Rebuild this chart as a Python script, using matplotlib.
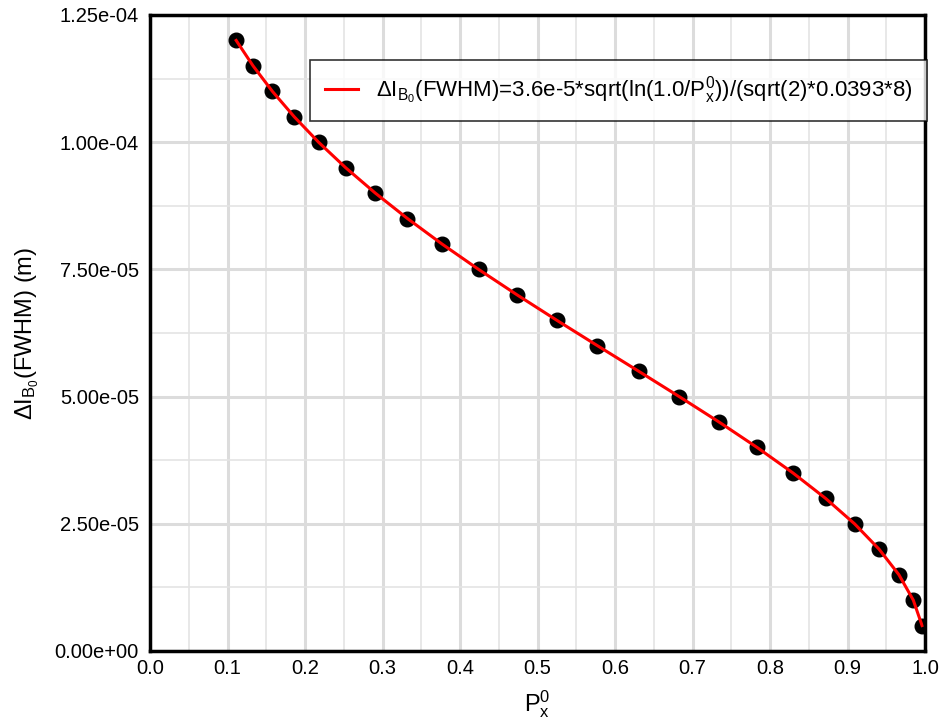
import matplotlib
matplotlib.use("Agg")
from matplotlib import pyplot as plt
from matplotlib.ticker import MultipleLocator, FormatStrFormatter

plt.rcParams["font.family"] = ["Liberation Sans", "DejaVu Sans"]
plt.rcParams["mathtext.fontset"] = "custom"
plt.rcParams["mathtext.rm"] = "Liberation Sans"
plt.rcParams["mathtext.it"] = "Liberation Sans"
plt.rcParams["mathtext.default"] = "regular"

# values
px0 = [0.1112, 0.1330, 0.1579, 0.1861, 0.2175, 0.2524, 0.2907, 0.3322,
       0.3767, 0.4240, 0.4736, 0.5249, 0.5774, 0.6304, 0.6829, 0.7343,
       0.7834, 0.8296, 0.8717, 0.9091, 0.9408, 0.9663, 0.9849, 0.9962]
fwhm = [1.20e-4, 1.15e-4, 1.10e-4, 1.05e-4, 1.00e-4, 0.95e-4, 0.90e-4, 0.85e-4,
        0.80e-4, 0.75e-4, 0.70e-4, 0.65e-4, 0.60e-4, 0.55e-4, 0.50e-4, 0.45e-4,
        0.40e-4, 0.35e-4, 0.30e-4, 0.25e-4, 0.20e-4, 0.15e-4, 0.10e-4, 0.05e-4]

legend_label = r"ΔI$_{B_0}$(FWHM)=3.6e-5*sqrt(ln(1.0/P$_x^0$))/(sqrt(2)*0.0393*8)"

fig = plt.figure(figsize=(9.41, 7.28), dpi=100)
ax = fig.add_axes([150 / 941, 1 - 651 / 728, 775 / 941, 636 / 728])

ax.plot(px0, fwhm, "o", color="black", markersize=10.5, zorder=3)
ax.plot(px0, fwhm, "-", color="red", linewidth=2.2, label=legend_label, zorder=4)

ax.set_xlim(0.0, 1.0)
ax.set_ylim(0.0, 1.25e-4)
ax.xaxis.set_major_locator(MultipleLocator(0.1))
ax.xaxis.set_minor_locator(MultipleLocator(0.05))
ax.yaxis.set_major_locator(MultipleLocator(2.5e-5))
ax.yaxis.set_minor_locator(MultipleLocator(1.25e-5))
ax.xaxis.set_major_formatter(FormatStrFormatter("%.1f"))
ax.yaxis.set_major_formatter(FormatStrFormatter("%.2e"))

ax.grid(which="major", color="#dcdcdc", linewidth=2.2)
ax.grid(which="minor", color="#e4e4e4", linewidth=1.2)
ax.set_axisbelow(True)
ax.tick_params(which="both", length=0, labelsize=14.5)
ax.tick_params(axis="x", pad=6)
ax.tick_params(axis="y", pad=8)
for spine in ax.spines.values():
    spine.set_linewidth(2.5)
    spine.set_zorder(5)

ax.set_xlabel(r"P$_x^0$", fontsize=17, labelpad=7)
ax.set_ylabel(r"ΔI$_{B_0}$(FWHM) (m)", fontsize=17, labelpad=10)

leg = ax.legend(loc="upper right", bbox_to_anchor=(1.0026, 0.929), fontsize=16,
                frameon=True, fancybox=False, edgecolor="black",
                handlelength=1.5, borderpad=0.65, borderaxespad=0)
leg.get_frame().set_linewidth(1.2)
leg.set_zorder(6)

fig.savefig("out.png", dpi=100)
